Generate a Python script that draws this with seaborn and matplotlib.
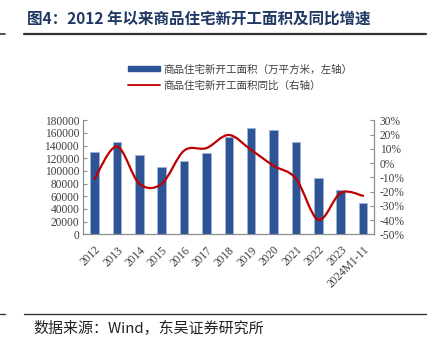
import matplotlib
matplotlib.use("Agg")
import matplotlib.pyplot as plt
from matplotlib.path import Path
from matplotlib.patches import PathPatch
from matplotlib.lines import Line2D
from matplotlib.patches import Patch
import seaborn as sns
import numpy as np
import pandas as pd

categories = ["2012", "2013", "2014", "2015", "2016", "2017", "2018", "2019",
              "2020", "2021", "2022", "2023", "2024M1-11"]
area = [130695, 145845, 124877, 106651, 115911, 128098, 153753, 167463,
        164329, 146379, 88135, 69286, 48839]
yoy = [-11.2, 11.6, -14.4, -14.6, 8.7, 10.5, 19.7, 9.2, -1.9, -10.9, -39.8, -20.9, -23.0]
left_ticks = [0, 20000, 40000, 60000, 80000, 100000, 120000, 140000, 160000, 180000]
right_ticks = [-50, -40, -30, -20, -10, 0, 10, 20, 30]

title = "图4：2012 年以来商品住宅新开工面积及同比增速"
source = "数据来源：Wind，东吴证券研究所"
bar_label = "商品住宅新开工面积（万平方米，左轴）"
line_label = "商品住宅新开工面积同比（右轴）"

sns.set_theme(style="white")
plt.rcParams['font.family'] = ['Noto Sans CJK SC', 'DejaVu Sans']

W, H = 433, 345
fig = plt.figure(figsize=(W / 100, H / 100), dpi=100)

x0, x1, ytop, ybot = 83.3, 374.3, 120.3, 234.3
ax = fig.add_axes([x0 / W, 1 - ybot / H, (x1 - x0) / W, (ybot - ytop) / H])

df = pd.DataFrame({"cat": categories, "area": area})
bar_color = "#2E5495"
sns.barplot(data=df, x="cat", y="area", ax=ax, color=bar_color, width=0.38,
            saturation=1, edgecolor="#9DB3D9", linewidth=0.6)
ax.set_xlim(-0.5, len(categories) - 0.5)
ax.set_ylim(0, 180000)
ax.set_yticks(left_ticks)
ax.set_yticklabels([str(v) for v in left_ticks])
ax.set_xlabel("")
ax.set_ylabel("")

ax2 = ax.twinx()
ax2.set_ylim(-50, 30)
ax2.set_yticks(right_ticks)
ax2.set_yticklabels([f"{v}%" for v in right_ticks])

# smooth (Excel-like Bezier) line through the yoy values
xs = np.arange(len(yoy), dtype=float)
ys = np.array(yoy, dtype=float)
verts = [(xs[0], ys[0])]
codes = [Path.MOVETO]
n = len(xs)
for i in range(n - 1):
    p0 = np.array([xs[max(i - 1, 0)], ys[max(i - 1, 0)]])
    p1 = np.array([xs[i], ys[i]])
    p2 = np.array([xs[i + 1], ys[i + 1]])
    p3 = np.array([xs[min(i + 2, n - 1)], ys[min(i + 2, n - 1)]])
    c1 = p1 + (p2 - p0) / 6.0
    c2 = p2 - (p3 - p1) / 6.0
    verts += [tuple(c1), tuple(c2), tuple(p2)]
    codes += [Path.CURVE4] * 3
line_color = "#C00000"
ax2.add_patch(PathPatch(Path(verts, codes), facecolor="none", edgecolor=line_color,
                        linewidth=1.6, capstyle="round", joinstyle="round"))

spine_c = "#8C8C8C"
for a in (ax, ax2):
    for s in a.spines.values():
        s.set_color(spine_c)
        s.set_linewidth(0.8)
    a.spines["top"].set_visible(False)
    a.grid(False)

for lab in ax.get_yticklabels() + ax2.get_yticklabels():
    lab.set_fontfamily("Liberation Serif")
    lab.set_fontsize(8.3)
    lab.set_color("#404040")
ax.tick_params(axis="y", direction="in", length=3, color=spine_c, pad=3, width=0.8)
ax2.tick_params(axis="y", direction="in", length=3, color=spine_c, pad=4, width=0.8)
ax.set_xticks(range(len(categories)))
ax.set_xticklabels(categories, rotation=45, ha="right", rotation_mode="anchor",
                   fontfamily="Liberation Serif", fontsize=8.3, color="#404040")
ax.tick_params(axis="x", which="major", length=0, pad=7)
ax.set_xticks(np.arange(-0.5, len(categories), 1.0), minor=True)
ax.tick_params(axis="x", which="minor", direction="in", length=3, color=spine_c, width=0.8)

# legend
handles = [Patch(facecolor=bar_color, edgecolor=bar_color),
           Line2D([0], [0], color=line_color, linewidth=1.3)]
fig.legend(handles, [bar_label, line_label], loc="upper left",
           bbox_to_anchor=(121 / W, 1 - 57 / H), frameon=False,
           prop={"family": ["Noto Sans CJK SC", "DejaVu Sans"], "size": 7.6},
           labelcolor="#404040", handlelength=3.0, handleheight=0.35,
           handletextpad=0.3, labelspacing=0.55, borderpad=0.2)

# title and source
fig.text(27 / W, 1 - 19 / H, title, ha="left", va="center", fontsize=11.2,
         fontweight="bold", color="#1F3864",
         family=["Noto Sans CJK SC", "DejaVu Sans"])
fig.add_artist(Line2D([24 / W, 426 / W], [1 - 33.5 / H] * 2, color="#333333", linewidth=1.6))
fig.add_artist(Line2D([0, 5 / W], [1 - 33.5 / H] * 2, color="#333333", linewidth=1.2))
fig.add_artist(Line2D([24 / W, 426 / W], [1 - 313.5 / H] * 2, color="#333333", linewidth=1.0))
fig.add_artist(Line2D([0, 5 / W], [1 - 313.5 / H] * 2, color="#333333", linewidth=1.0))
fig.text(33 / W, 1 - 328 / H, source, ha="left", va="center", fontsize=10.8,
         color="#222222", family=["Noto Sans CJK SC", "DejaVu Sans"])

fig.savefig("out.png", dpi=100)
